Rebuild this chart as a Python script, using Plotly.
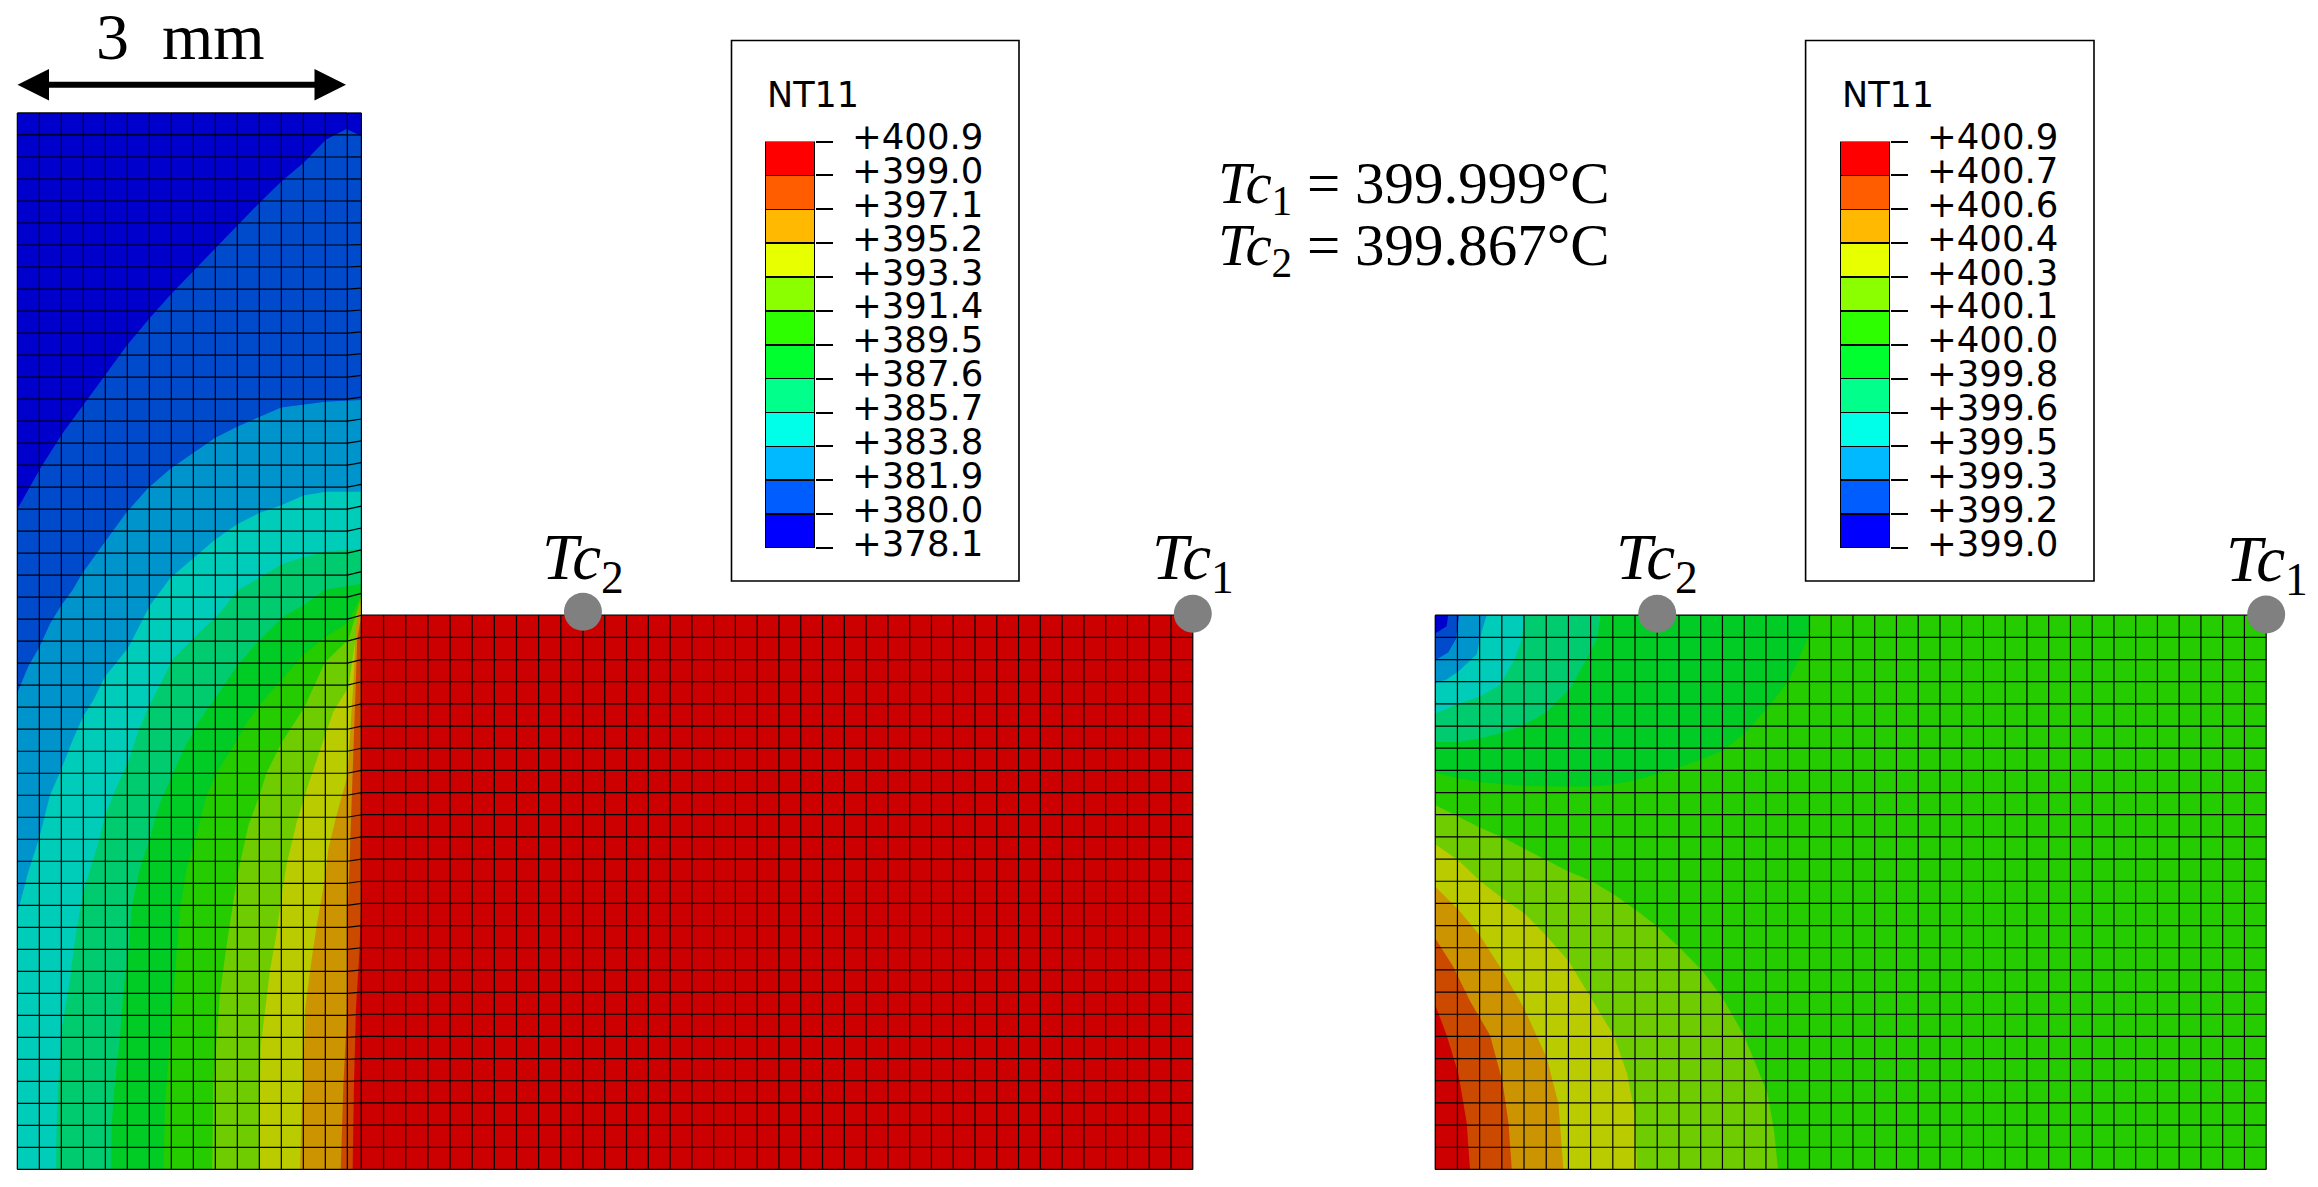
import plotly.graph_objects as go

W, H = 2318, 1187
CELL = 22.0           # pixels per mesh element
X0_PX, Y0_PX = 17.33, 1169.4

# ---- colours (Abaqus rainbow, low -> high) ----
legend_colors = ["#0000FF", "#005DFF", "#00B9FF", "#00FFE8", "#00FF8B", "#00FF2E",
                 "#2EFF00", "#8BFF00", "#E8FF00", "#FFB900", "#FF5D00", "#FF0000"]
band_colors = ["#0000CC", "#004ACC", "#0094CC", "#00CCBA", "#00CC6F", "#00CC25",
               "#25CC00", "#6FCC00", "#BACC00", "#CC9400", "#CC4A00", "#CC0000"]

# ---- legend labels, top -> bottom ----
labels_left = ["+400.9", "+399.0", "+397.1", "+395.2", "+393.3", "+391.4", "+389.5",
               "+387.6", "+385.7", "+383.8", "+381.9", "+380.0", "+378.1"]
labels_right = ["+400.9", "+400.7", "+400.6", "+400.4", "+400.3", "+400.1", "+400.0",
                "+399.8", "+399.6", "+399.5", "+399.3", "+399.2", "+399.0"]

# ---- mesh geometry, in element units ----
leg_cols, leg_width, leg_rows, leg_height = 15, 15.64, 48, 48.02
plate_cols_a, plate_cols_b, plate_rows = 10, 28, 25
plate_height = 25.19
red_width_a, red_width_b = 10.07, 27.72
right_x0, right_width_a, right_width_b = 64.45, 10.09, 27.68
row_unit_low = 1.0055     # lower-leg contour readings are in rows slightly taller than CELL

# ---- left leg: iso-temperature boundaries (col, row); band k lies right/below of curve k ----
L1_x = [15.64, 14.96, 14.02, 13.01, 12.0, 11.0, 9.99, 8.98, 7.97, 6.96, 5.95, 4.94, 3.93, 3.09, 2.08, 1.08, 0]
L1_y = [46.97, 47.29, 46.8, 45.76, 44.9, 43.93, 42.89, 41.85, 40.8, 39.76, 38.62, 37.41, 36.02, 34.89, 33.5, 31.93, 30.01]
L2_x = [15.64, 14.02, 12.0, 11.0, 9.99, 8.98, 7.97, 6.96, 5.95, 4.94, 3.93, 2.93, 2.52, 2.0, 1.48, 1.0, 0.5, 0]
L2_y = [34.97, 34.89, 34.63, 34.19, 33.76, 33.24, 32.54, 31.85, 30.97, 29.84, 28.45, 27.06, 26.2, 25.5, 24.65, 23.6, 22.75, 21.55]
L3_x = [15.64, 14.02, 13.01, 12.0, 11.0, 9.99, 8.98, 7.97, 6.96, 6.56, 6.03, 5.5, 5.05, 4.5, 4.0, 3.45, 3.0, 2.47, 2.0, 1.48, 1.0, 0.5, 0]
L3_y = [30.8, 30.8, 30.63, 30.19, 29.84, 29.32, 28.62, 27.76, 26.89, 26.2, 25.5, 24.47, 23.6, 22.9, 22.3, 21.2, 20.5, 19.3, 18.1, 16.9, 15.0, 13.46, 11.57]
L4_x = [15.64, 14.02, 13.01, 12.0, 11.0, 10.05, 9.06, 8.3, 7.09, 6.64, 6.03, 5.5, 5.05, 4.5, 4.0, 3.6, 3.0, 2.62, 2.32, 2.02, 1.86, 1.79, 1.76]
L4_y = [28.2, 28.1, 27.84, 27.5, 26.89, 26.2, 25.0, 24.3, 23.1, 22.24, 21.03, 19.83, 18.45, 17.25, 16.04, 14.5, 12.6, 10.36, 8.12, 6.4, 3.82, 2.1, 0]
L5_x = [15.64, 13.98, 13.0, 12.09, 11.03, 9.97, 9.06, 8.3, 7.55, 7.02, 6.48, 6.03, 5.58, 5.2, 5.05, 4.82, 4.67, 4.44, 4.29, 4.26]
L5_y = [26.62, 26.2, 25.5, 25.0, 23.96, 22.75, 21.38, 20.34, 18.97, 17.76, 16.56, 15.0, 13.63, 11.91, 9.85, 8.12, 6.06, 3.99, 2.1, 0]
L6_x = [15.64, 15.05, 13.98, 13.0, 12.02, 11.03, 10.42, 9.82, 9.06, 8.6, 8.15, 7.7, 7.39, 7.17, 7.02, 6.86, 6.71, 6.64]
L6_y = [26.0, 24.73, 24.04, 23.27, 22.15, 21.03, 20.17, 19.14, 17.93, 16.9, 15.18, 13.63, 11.74, 8.98, 7.26, 5.03, 2.96, 0]
L7_x = [15.64, 15.05, 13.98, 13.03, 12.02, 11.33, 11.0, 10.5, 10.0, 9.52, 9.21, 9.06, 8.91, 8.86]
L7_y = [25.9, 23.96, 22.93, 20.86, 19.31, 17.93, 16.9, 15.53, 13.29, 10.19, 7.95, 5.89, 3.82, 0]
L8_x = [15.64, 15.05, 14.36, 13.83, 13.23, 12.7, 12.24, 12.02, 11.79, 11.48, 11.26, 11.06, 11.0, 11.0]
L8_y = [25.8, 21.8, 20.69, 19.14, 17.41, 15.7, 13.8, 12.43, 10.7, 8.98, 7.26, 5.54, 2.1, 0]
L9_x = [15.6, 15.39, 15.27, 15.12, 15.0, 14.52, 14.14, 13.98, 13.61, 13.38, 13.08, 13.0, 12.92, 12.85]
L9_y = [25.85, 24.47, 21.9, 19.3, 17.76, 16.04, 14.49, 13.12, 11.05, 9.5, 7.26, 4.17, 2.62, 0]
L10_x = [15.64, 15.45, 15.35, 15.24, 15.12, 15.03, 14.97, 14.82, 14.7]
L10_y = [25.06, 23.96, 21.03, 17.59, 14.15, 11.91, 6.75, 3.82, 0]
L11_x = [15.64, 15.55, 15.39, 15.3, 15.24]
L11_y = [12.43, 9.85, 7.26, 3.82, 0]
left_curves = [(1, L1_x, L1_y), (2, L2_x, L2_y), (3, L3_x, L3_y), (4, L4_x, L4_y), (5, L5_x, L5_y),
               (6, L6_x, L6_y), (7, L7_x, L7_y), (8, L8_x, L8_y), (9, L9_x, L9_y), (10, L10_x, L10_y),
               (11, L11_x, L11_y)]

# ---- right block: upper-left nested (cooler) regions; each is the band inside the curve ----
R5_x = [17.04, 16.91, 16.46, 16.08, 15.09, 14.11, 13.12, 12.13, 11.14, 10.11, 9.09, 8.11, 7.12, 6.06, 5.07, 4.05, 3.05, 2.05, 1.05, 0]
R5_y = [25, 23.92, 22.89, 22.04, 20.82, 19.71, 18.93, 18.5, 18.15, 17.85, 17.56, 17.38, 17.27, 17.27, 17.27, 17.3, 17.39, 17.47, 17.65, 17.9]
R4_x = [7.5, 7.35, 6.89, 6.13, 5.07, 4.05, 3.05, 2.05, 1.05, 0]
R4_y = [25, 23.92, 23.06, 21.68, 20.65, 20.05, 19.7, 19.45, 19.28, 19.28]
R3_x = [4.05, 3.93, 3.63, 2.95, 2.05, 1.05, 0]
R3_y = [25, 23.92, 23.06, 21.86, 21.34, 21.0, 20.57]
R2_x = [2.34, 2.11, 1.88, 1.05, 0.52, 0]
R2_y = [25, 24.26, 23.23, 22.46, 22.1, 21.94]
R1_x = [1.09, 0.94, 0.59, 0]
R1_y = [25, 23.92, 23.32, 22.97]
R0_x = [0.59, 0.52, 0]
R0_y = [25, 24.5, 24.17]
right_upper = [(5, R5_x, R5_y), (4, R4_x, R4_y), (3, R3_x, R3_y), (2, R2_x, R2_y), (1, R1_x, R1_y), (0, R0_x, R0_y)]

# ---- right block: lower-left nested (hotter) regions ----
R7_x = [0, 1.05, 2.05, 3.05, 4.05, 5.07, 6.06, 7.12, 8.11, 9.09, 10.11, 11.11, 12.13, 13.04, 14.03, 15.09, 15.4, 15.58]
R7_y = [16.44, 15.93, 15.41, 14.98, 14.47, 13.95, 13.44, 13.0, 12.41, 11.72, 10.95, 10.0, 8.97, 7.77, 6.05, 3.47, 1.75, 0]
R8_x = [0, 1.05, 2.05, 3.05, 4.05, 5.07, 6.06, 7.12, 8.11, 8.72, 9.09, 9.17]
R8_y = [14.67, 13.95, 13.0, 12.23, 11.55, 10.52, 9.4, 7.68, 6.05, 4.33, 2.44, 0]
R9_x = [0, 1.05, 2.05, 3.05, 4.05, 5.07, 5.6, 5.83]
R9_y = [12.75, 11.72, 10.52, 8.97, 7.25, 5.02, 2.96, 0]
R10_x = [0, 0.82, 1.58, 2.49, 3.05, 3.33, 3.48]
R10_y = [10.43, 9.14, 7.6, 6.05, 3.99, 2.1, 0]
R11_x = [0, 0.52, 1.05, 1.43, 1.58]
R11_y = [7.42, 6.05, 4.33, 2.1, 0]
right_lower = [(7, R7_x, R7_y), (8, R8_x, R8_y), (9, R9_x, R9_y), (10, R10_x, R10_y), (11, R11_x, R11_y)]


def patch(xs, ys, color):
    return go.Scatter(x=xs, y=ys, mode="lines", fill="toself", fillcolor=color,
                      line=dict(width=0, color=color), hoverinfo="skip", showlegend=False)


def rect(x0, x1, y0, y1):
    return [x0, x1, x1, x0, x0], [y0, y0, y1, y1, y0]


red_width = red_width_a + red_width_b
right_width = right_width_a + right_width_b
plate_rows_y = [r * plate_height / plate_rows for r in range(plate_rows + 1)]
red_col_x = [leg_width + c * red_width_a / plate_cols_a for c in range(plate_cols_a)] + \
            [leg_width + red_width_a + c * red_width_b / plate_cols_b for c in range(plate_cols_b + 1)]
right_col_x = [right_x0 + c * right_width_a / plate_cols_a for c in range(plate_cols_a)] + \
              [right_x0 + right_width_a + c * right_width_b / plate_cols_b for c in range(plate_cols_b + 1)]
plate_unit = plate_height / plate_rows

fig = go.Figure()

# left leg
fig.add_trace(patch(*rect(0, leg_width, 0, leg_height), band_colors[0]))
for k, xs, ys in left_curves:
    px = list(xs)
    py = [v * row_unit_low if v < 26.3 else v for v in ys]
    if px[-1] == 0:
        px.append(0); py.append(0)
    px.append(leg_width); py.append(0)
    fig.add_trace(patch(px, py, band_colors[k]))

# red block
fig.add_trace(patch(*rect(leg_width, leg_width + red_width, 0, plate_height), band_colors[11]))

# right block
fig.add_trace(patch(*rect(right_x0, right_x0 + right_width, 0, plate_height), band_colors[6]))
for k, xs, ys in right_upper:
    fig.add_trace(patch([right_x0 + v for v in xs] + [right_x0],
                        [v * plate_unit for v in ys] + [plate_height], band_colors[k]))
for k, xs, ys in right_lower:
    fig.add_trace(patch([right_x0 + v for v in xs] + [right_x0],
                        [v * plate_unit for v in ys] + [0], band_colors[k]))

# mesh lines
mx, my = [], []


def seg(x0, y0, x1, y1):
    mx.extend([x0, x1, None])
    my.extend([y0, y1, None])


for c in range(leg_cols + 1):
    seg(c, 0, c, leg_height)
seg(leg_width, 0, leg_width, leg_height)
for r in range(leg_rows + 1):
    y = r * leg_height / leg_rows
    seg(0, y, leg_cols, y)
    if r <= plate_rows:
        seg(leg_cols, y, leg_width, plate_rows_y[r])
    else:
        rise = max(0.0, 0.18 * (44 - r) / 19)
        seg(leg_cols, y, leg_width, y + rise)
for x in red_col_x:
    seg(x, 0, x, plate_height)
for y in plate_rows_y:
    seg(leg_width, y, red_col_x[-1], y)
for x in right_col_x:
    seg(x, 0, x, plate_height)
for y in plate_rows_y:
    seg(right_x0, y, right_col_x[-1], y)
fig.add_trace(go.Scatter(x=mx, y=my, mode="lines", line=dict(color="black", width=1.2),
                         hoverinfo="skip", showlegend=False))

# sensor points
dot_x = [red_col_x[plate_cols_a], red_col_x[-1], right_col_x[plate_cols_a], right_col_x[-1]]
dot_y = [25.35, 25.26, 25.26, 25.22]
fig.add_trace(go.Scatter(x=dot_x, y=dot_y, mode="markers", cliponaxis=False,
                         marker=dict(size=38, color="#808080", line=dict(width=0)),
                         hoverinfo="skip", showlegend=False))

shapes, annos = [], []
SERIF = "Liberation Serif"
SANS = "DejaVu Sans"

for n, x, yv in [(2, dot_x[0], 27.6), (1, dot_x[1], 27.6), (2, dot_x[2], 27.6), (1, dot_x[3] + 0.06, 27.5)]:
    annos.append(dict(x=x, y=yv, xref="x", yref="y", showarrow=False,
                      text=f"<i>Tc</i><sub>{n}</sub>", font=dict(family=SERIF, size=65, color="black"),
                      xanchor="center", yanchor="middle"))

# width arrow + label
annos.append(dict(x=14.94, y=49.3, ax=-0.06, ay=49.3, xref="x", yref="y", axref="x", ayref="y",
                  text="", showarrow=True, arrowhead=2, arrowside="end+start", arrowsize=1.05,
                  arrowwidth=6, arrowcolor="black", standoff=0, startstandoff=0))
annos.append(dict(x=7.4, y=51.5, xref="x", yref="y", showarrow=False, text="3\u2002mm",
                  font=dict(family=SERIF, size=66, color="black"), xanchor="center", yanchor="middle"))

# result equations
for yv, n, val in [(44.67, 1, "399.999"), (41.84, 2, "399.867")]:
    annos.append(dict(x=54.5, y=yv, xref="x", yref="y", showarrow=False, xanchor="left", yanchor="middle",
                      text=f"<i>Tc</i><sub>{n}</sub> = {val}°C",
                      font=dict(family=SERIF, size=59, color="black")))


# legends: real bar traces on their own axes
def add_legend(idx, labels, box, bar):
    xa, ya = f"x{idx}", f"y{idx}"
    fig.add_trace(go.Bar(x=[0] * 12, y=[1] * 12, width=1, xaxis=xa, yaxis=ya, textposition="none",
                         marker=dict(color=legend_colors, line=dict(color="black", width=1.6)),
                         hoverinfo="skip", showlegend=False))
    fig.layout[f"xaxis{idx}"] = dict(domain=[bar[0] / W, bar[1] / W], range=[-0.5, 0.5], anchor=ya,
                                     showticklabels=False, ticks="", showgrid=False, zeroline=False,
                                     showline=False, fixedrange=True)
    fig.layout[f"yaxis{idx}"] = dict(domain=[1 - bar[3] / H, 1 - bar[2] / H], range=[0, 12], anchor=xa,
                                     side="right", tickmode="array", tickvals=list(range(13)),
                                     showticklabels=False, ticks="outside", ticklen=17, tickwidth=1.6,
                                     tickcolor="black", showgrid=False, zeroline=False, showline=False,
                                     fixedrange=True)
    shapes.append(dict(type="rect", xref="paper", yref="paper", x0=box[0] / W, x1=box[1] / W,
                       y0=1 - box[3] / H, y1=1 - box[2] / H, line=dict(color="black", width=1.6)))
    annos.append(dict(x=bar[0] / W, y=1 - 95 / H, xref="paper", yref="paper", showarrow=False, text="NT11",
                      xanchor="left", yanchor="middle",
                      font=dict(family=SANS, size=35, color="black")))
    for i, t in enumerate(labels):
        annos.append(dict(x=0.5, y=12 - i, xref=xa, yref=ya, showarrow=False, text=t, xanchor="left",
                          yanchor="middle", xshift=35, yshift=5,
                          font=dict(family=SANS, size=35.5, color="black")))


add_legend(2, labels_left, (731.5, 1019, 40.5, 581), (765, 815, 141.6, 548))
add_legend(3, labels_right, (1805.6, 2094, 40.5, 581), (1840, 1890, 141.6, 548))

fig.update_layout(
    width=W, height=H, margin=dict(l=0, r=0, t=0, b=0), paper_bgcolor="white", plot_bgcolor="white",
    barmode="stack", showlegend=False, shapes=shapes, annotations=annos,
    xaxis=dict(domain=[0, 1], range=[-X0_PX / CELL, (W - X0_PX) / CELL], visible=False, fixedrange=True),
    yaxis=dict(domain=[0, 1], range=[(Y0_PX - H) / CELL, Y0_PX / CELL], visible=False, fixedrange=True),
)
fig.write_html("out.html", config=dict(displayModeBar=False),
               post_script="document.body.style.margin='0';document.documentElement.style.overflow='hidden';")
